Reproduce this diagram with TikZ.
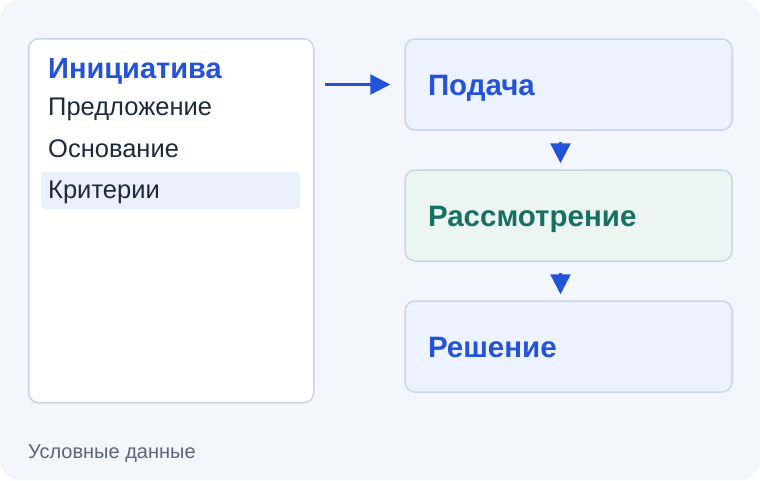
\documentclass[tikz,border=0pt]{standalone}
\usepackage{fontspec}
\setmainfont{Liberation Sans}
\usepackage{tikz}
\usetikzlibrary{arrows.meta, positioning}

\definecolor{bgpage}{HTML}{F3F6FD}
\definecolor{edgeline}{HTML}{C8D6E9}
\definecolor{accent}{HTML}{2452D8}
\definecolor{inktext}{HTML}{1E293B}
\definecolor{teal}{HTML}{1A6F63}
\definecolor{bluefill}{HTML}{EDF3FE}
\definecolor{greenfill}{HTML}{EBF5F2}
\definecolor{rowfill}{HTML}{EAF1FD}
\definecolor{notegray}{HTML}{5B6578}

\tikzset{
  stage/.style={rectangle, rounded corners=10pt, draw=edgeline, line width=1.5pt,
    minimum width=327pt, minimum height=91pt, inner xsep=23pt, inner ysep=0pt,
    text width=281pt, align=left, text height=21pt, text depth=0pt,
    font=\bfseries\fontsize{29.5}{32}\selectfont},
  item/.style={anchor=base west, inner sep=0pt, text=inktext,
    font=\fontsize{25.5}{28}\selectfont},
  flow/.style={draw=accent, line width=2.5pt, -{Triangle[length=20pt, width=20pt]}}
}

\begin{document}
\begin{tikzpicture}[x=1pt, y=-1pt]
  \useasboundingbox (0,0) rectangle (760,480);
  \fill[white] (0,0) rectangle (760,480);
  \fill[bgpage, rounded corners=20pt] (0,0) rectangle (760,480);

  % left panel
  \node[rectangle, rounded corners=10pt, draw=edgeline, line width=1.5pt, fill=white,
    minimum width=285pt, minimum height=364pt, anchor=north west] (panel) at (28,38) {};
  \node[rectangle, rounded corners=4pt, fill=rowfill, minimum width=259pt,
    minimum height=37pt, anchor=north west] (row) at (41,172) {};
  \node[item, text=accent, font=\bfseries\fontsize{29}{32}\selectfont] (title) at (48,78) {Инициатива};
  \node[item] (item1) at (48,115) {Предложение};
  \node[item] (item2) at (48,157) {Основание};
  \node[item] (item3) at (48,198) {Критерии};

  % stages
  \node[stage, fill=bluefill, text=accent, anchor=north west] (podacha) at (404.25,38.25) {Подача};
  \node[stage, fill=greenfill, text=teal, below=38.5pt of podacha] (rassmotr) {Рассмотрение};
  \node[stage, fill=bluefill, text=accent, below=38.5pt of rassmotr] (reshenie) {Решение};

  \draw[flow, shorten <=10pt, shorten >=14pt] (panel.east |- podacha.west) -- (podacha.west);
  \draw[flow, shorten <=11pt, shorten >=6pt] ([xshift=-8pt]podacha.south) -- ([xshift=-8pt]rassmotr.north);
  \draw[flow, shorten <=11pt, shorten >=6pt] ([xshift=-8pt]rassmotr.south) -- ([xshift=-8pt]reshenie.north);

  \node[item, text=notegray, font=\fontsize{20}{24}\selectfont] (note) at (28,458) {Условные данные};
\end{tikzpicture}
\end{document}
